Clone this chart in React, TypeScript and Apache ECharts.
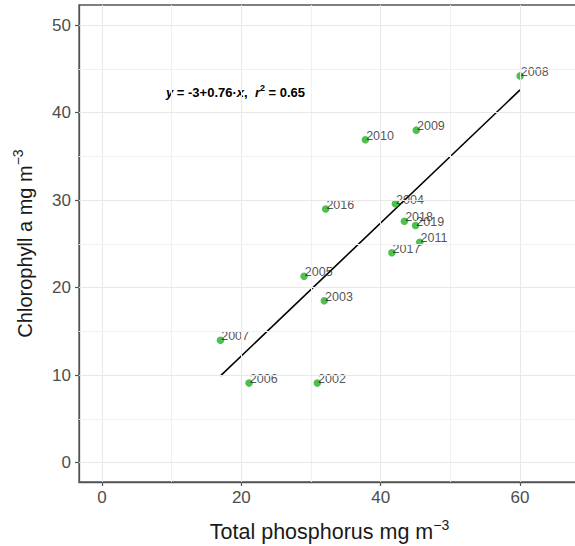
import React, { useEffect, useRef } from "react";
import * as echarts from "echarts";

const years = ["2002", "2003", "2004", "2005", "2006", "2007", "2008", "2009", "2010", "2011", "2016", "2017", "2018", "2019"];
const totalPhosphorus = [30.9, 31.9, 42.1, 29.0, 21.1, 17.0, 60.0, 45.1, 37.8, 45.6, 32.1, 41.6, 43.4, 45.0];
const chlorophyll = [9.1, 18.5, 29.6, 21.3, 9.1, 14.0, 44.2, 38.0, 36.9, 25.2, 29.0, 24.0, 27.6, 27.1];
const intercept = -3;
const slope = 0.76;
const r2 = 0.65;
const xTicks = [0, 20, 40, 60];
const xMinorGrid = [10, 30, 50];
const yTicks = [0, 10, 20, 30, 40, 50];
const yMinorGrid = [5, 15, 25, 35, 45];

const FONT = "Liberation Sans, Arial, sans-serif";

export default function App() {
  const ref = useRef<HTMLDivElement>(null);
  useEffect(() => {
    if (!ref.current) return;
    const chart = echarts.init(ref.current, null, { renderer: "svg" });
    const xMin = Math.min(...totalPhosphorus);
    const xMax = Math.max(...totalPhosphorus);
    const fitLine = [
      [xMin, intercept + slope * xMin],
      [xMax, intercept + slope * xMax],
    ];
    const points = years.map((y, i) => ({ value: [totalPhosphorus[i], chlorophyll[i]], name: y }));
    const majorStyle = { color: "#e8e8e8", width: 1, type: "solid" as const };
    const minorStyle = { color: "#f0f0f0", width: 1, type: "solid" as const };
    const gridLines = [
      ...xTicks.map((v) => ({ xAxis: v, lineStyle: majorStyle })),
      ...xMinorGrid.map((v) => ({ xAxis: v, lineStyle: minorStyle })),
      ...yTicks.map((v) => ({ yAxis: v, lineStyle: majorStyle })),
      ...yMinorGrid.map((v) => ({ yAxis: v, lineStyle: minorStyle })),
    ];
    const supStyle = { fontSize: 14, color: "#1a1a1a", verticalAlign: "top", lineHeight: 28, fontFamily: FONT };
    chart.setOption({
      animation: false,
      backgroundColor: "#ffffff",
      textStyle: { fontFamily: FONT },
      grid: {
        left: 79,
        right: -5,
        top: 5,
        bottom: 64,
        show: true,
        borderColor: "#555555",
        borderWidth: 1.3,
        containLabel: false,
        outerBoundsMode: "none",
        z: 1,
      },
      xAxis: {
        type: "value",
        min: -3.3,
        max: 68.6,
        name: "Total phosphorus mg m{sup|−3}",
        nameLocation: "middle",
        nameGap: 36,
        nameTextStyle: {
          fontSize: 21.5,
          color: "#1a1a1a",
          fontFamily: FONT,
          lineHeight: 28,
          rich: { sup: supStyle },
        },
        axisLine: { show: true, onZero: false, lineStyle: { color: "#555555", width: 1.3 } },
        axisTick: { show: true, length: 4, customValues: xTicks, lineStyle: { color: "#555555", width: 1.2 } },
        axisLabel: {
          show: true,
          fontSize: 17,
          color: "#4d4d4d",
          margin: 7,
          customValues: xTicks,
        },
        splitLine: { show: false },
      },
      yAxis: {
        type: "value",
        min: -2.2,
        max: 52.3,
        name: "Chlorophyll a mg m{sup|−3}",
        nameLocation: "middle",
        nameRotate: 90,
        nameGap: 40,
        nameTextStyle: {
          fontSize: 20,
          color: "#1a1a1a",
          fontFamily: FONT,
          lineHeight: 28,
          rich: { sup: supStyle },
        },
        axisLine: { show: true, onZero: false, lineStyle: { color: "#555555", width: 1.3 } },
        axisTick: { show: true, length: 4, customValues: yTicks, lineStyle: { color: "#555555", width: 1.2 } },
        axisLabel: {
          show: true,
          fontSize: 17,
          color: "#4d4d4d",
          margin: 8,
          customValues: yTicks,
        },
        splitLine: { show: false },
      },
      series: [
        {
          type: "line",
          data: [],
          silent: true,
          z: 0,
          markLine: {
            silent: true,
            symbol: "none",
            label: { show: false },
            animation: false,
            data: gridLines,
          },
        },
        {
          type: "line",
          data: fitLine,
          symbol: "none",
          lineStyle: { color: "#000000", width: 1.6 },
          silent: true,
          z: 2,
        },
        {
          type: "scatter",
          data: points,
          symbolSize: 7.5,
          itemStyle: { color: "#22b022" },
          label: {
            show: true,
            position: "right",
            distance: 0,
            offset: [-3, -4],
            formatter: (p: any) => p.name,
            fontSize: 12.5,
            color: "#262626",
            fontFamily: FONT,
          },
          z: 3,
        },
      ],
      graphic: [
        {
          type: "text",
          x: 166,
          y: 92,
          style: {
            text: "{i|y} = -3+" + slope.toFixed(2) + "·{i|x},  {i|r}{s|2} = " + r2.toFixed(2),
            font: "bold 13px " + FONT,
            fill: "#000000",
            verticalAlign: "middle",
            lineHeight: 18,
            rich: {
              i: { font: "italic bold 13px " + FONT, fill: "#000000", lineHeight: 18 },
              s: { font: "bold 9px " + FONT, fill: "#000000", verticalAlign: "top", lineHeight: 18 },
            },
          },
        },
      ],
    });
    return () => chart.dispose();
  }, []);
  return <div ref={ref} style={{ position: "absolute", left: 0, top: 0, width: 575, height: 546 }} />;
}
